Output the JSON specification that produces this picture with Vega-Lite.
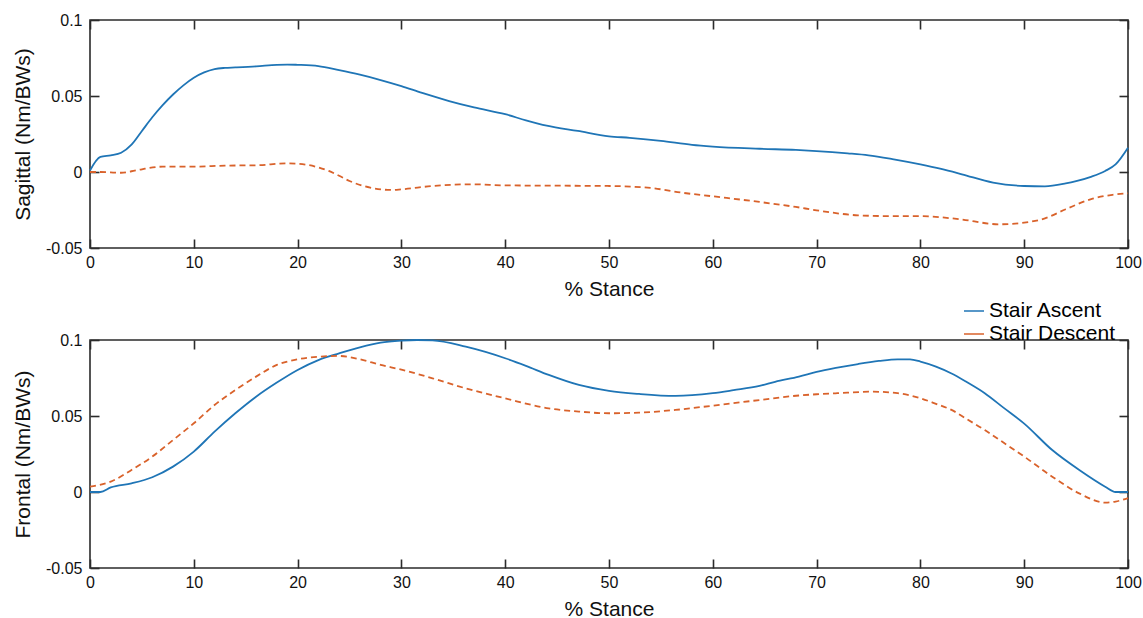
{
  "$schema": "https://vega.github.io/schema/vega-lite/v6.json",
  "padding": {"left": 11, "top": 11, "right": 0, "bottom": 0},
  "background": "white",
  "config": {
    "font": "Liberation Sans",
    "view": {"stroke": "#2b2b2b", "strokeWidth": 1.6},
    "axis": {"grid": false, "domain": false, "labelFlush": false, "labelFontSize": 16, "labelColor": "#111111", "titleFontSize": 21, "titleFontWeight": "normal", "titleColor": "#111111"}
  },
  "datasets": {
    "sagittal": [
      {"series": "Stair Ascent", "x": 0, "y": 0.001},
      {"series": "Stair Ascent", "x": 1, "y": 0.0099},
      {"series": "Stair Ascent", "x": 2, "y": 0.011},
      {"series": "Stair Ascent", "x": 3, "y": 0.0127},
      {"series": "Stair Ascent", "x": 4, "y": 0.018},
      {"series": "Stair Ascent", "x": 5, "y": 0.027},
      {"series": "Stair Ascent", "x": 6, "y": 0.036},
      {"series": "Stair Ascent", "x": 7, "y": 0.044},
      {"series": "Stair Ascent", "x": 8, "y": 0.051},
      {"series": "Stair Ascent", "x": 9, "y": 0.057},
      {"series": "Stair Ascent", "x": 10, "y": 0.062},
      {"series": "Stair Ascent", "x": 11, "y": 0.0655},
      {"series": "Stair Ascent", "x": 12, "y": 0.0677},
      {"series": "Stair Ascent", "x": 13, "y": 0.0685},
      {"series": "Stair Ascent", "x": 14, "y": 0.0688},
      {"series": "Stair Ascent", "x": 16, "y": 0.0695},
      {"series": "Stair Ascent", "x": 18, "y": 0.0705},
      {"series": "Stair Ascent", "x": 19, "y": 0.0707},
      {"series": "Stair Ascent", "x": 20, "y": 0.0705},
      {"series": "Stair Ascent", "x": 22, "y": 0.0697},
      {"series": "Stair Ascent", "x": 24, "y": 0.067},
      {"series": "Stair Ascent", "x": 26, "y": 0.064},
      {"series": "Stair Ascent", "x": 28, "y": 0.0605},
      {"series": "Stair Ascent", "x": 30, "y": 0.0565},
      {"series": "Stair Ascent", "x": 32, "y": 0.052},
      {"series": "Stair Ascent", "x": 34.6, "y": 0.0467},
      {"series": "Stair Ascent", "x": 37, "y": 0.0425},
      {"series": "Stair Ascent", "x": 40, "y": 0.038},
      {"series": "Stair Ascent", "x": 42, "y": 0.034},
      {"series": "Stair Ascent", "x": 44, "y": 0.0305},
      {"series": "Stair Ascent", "x": 47, "y": 0.027},
      {"series": "Stair Ascent", "x": 50, "y": 0.0235},
      {"series": "Stair Ascent", "x": 52, "y": 0.0225},
      {"series": "Stair Ascent", "x": 55, "y": 0.0205},
      {"series": "Stair Ascent", "x": 58, "y": 0.0178},
      {"series": "Stair Ascent", "x": 60, "y": 0.0167},
      {"series": "Stair Ascent", "x": 64.5, "y": 0.0153},
      {"series": "Stair Ascent", "x": 68, "y": 0.0145},
      {"series": "Stair Ascent", "x": 70, "y": 0.0138},
      {"series": "Stair Ascent", "x": 73, "y": 0.0123},
      {"series": "Stair Ascent", "x": 75, "y": 0.011},
      {"series": "Stair Ascent", "x": 77.3, "y": 0.0085},
      {"series": "Stair Ascent", "x": 80, "y": 0.005},
      {"series": "Stair Ascent", "x": 82, "y": 0.002},
      {"series": "Stair Ascent", "x": 84, "y": -0.0015},
      {"series": "Stair Ascent", "x": 87, "y": -0.007},
      {"series": "Stair Ascent", "x": 90, "y": -0.0092},
      {"series": "Stair Ascent", "x": 92, "y": -0.0094},
      {"series": "Stair Ascent", "x": 94, "y": -0.0075},
      {"series": "Stair Ascent", "x": 95, "y": -0.006},
      {"series": "Stair Ascent", "x": 96.5, "y": -0.003},
      {"series": "Stair Ascent", "x": 97.8, "y": 0.0007},
      {"series": "Stair Ascent", "x": 98.8, "y": 0.005},
      {"series": "Stair Ascent", "x": 100, "y": 0.016},
      {"series": "Stair Descent", "x": 0, "y": 0},
      {"series": "Stair Descent", "x": 1, "y": 0},
      {"series": "Stair Descent", "x": 2, "y": -0.0003},
      {"series": "Stair Descent", "x": 3, "y": -0.0005},
      {"series": "Stair Descent", "x": 4, "y": 0.0005},
      {"series": "Stair Descent", "x": 5, "y": 0.0018},
      {"series": "Stair Descent", "x": 7, "y": 0.0035},
      {"series": "Stair Descent", "x": 10, "y": 0.0035},
      {"series": "Stair Descent", "x": 13, "y": 0.0042},
      {"series": "Stair Descent", "x": 16, "y": 0.0044},
      {"series": "Stair Descent", "x": 19, "y": 0.0057},
      {"series": "Stair Descent", "x": 21, "y": 0.0046},
      {"series": "Stair Descent", "x": 22, "y": 0.003},
      {"series": "Stair Descent", "x": 23, "y": 0.0007},
      {"series": "Stair Descent", "x": 24, "y": -0.0025},
      {"series": "Stair Descent", "x": 25, "y": -0.0059},
      {"series": "Stair Descent", "x": 27, "y": -0.0103},
      {"series": "Stair Descent", "x": 29, "y": -0.0118},
      {"series": "Stair Descent", "x": 30, "y": -0.0114},
      {"series": "Stair Descent", "x": 33, "y": -0.0092},
      {"series": "Stair Descent", "x": 36.8, "y": -0.0081},
      {"series": "Stair Descent", "x": 40, "y": -0.0088},
      {"series": "Stair Descent", "x": 45, "y": -0.009},
      {"series": "Stair Descent", "x": 50, "y": -0.0092},
      {"series": "Stair Descent", "x": 54, "y": -0.0105},
      {"series": "Stair Descent", "x": 57, "y": -0.0136},
      {"series": "Stair Descent", "x": 60, "y": -0.016},
      {"series": "Stair Descent", "x": 64.5, "y": -0.0197},
      {"series": "Stair Descent", "x": 68, "y": -0.023},
      {"series": "Stair Descent", "x": 70, "y": -0.0252},
      {"series": "Stair Descent", "x": 74, "y": -0.0285},
      {"series": "Stair Descent", "x": 77, "y": -0.029},
      {"series": "Stair Descent", "x": 80, "y": -0.029},
      {"series": "Stair Descent", "x": 83.7, "y": -0.031},
      {"series": "Stair Descent", "x": 87.6, "y": -0.0344},
      {"series": "Stair Descent", "x": 90, "y": -0.0333},
      {"series": "Stair Descent", "x": 92, "y": -0.0305},
      {"series": "Stair Descent", "x": 94, "y": -0.0245},
      {"series": "Stair Descent", "x": 96.6, "y": -0.0175},
      {"series": "Stair Descent", "x": 98.5, "y": -0.015},
      {"series": "Stair Descent", "x": 100, "y": -0.014}
    ],
    "frontal": [
      {"series": "Stair Ascent", "x": 0, "y": 0},
      {"series": "Stair Ascent", "x": 1, "y": 0},
      {"series": "Stair Ascent", "x": 2, "y": 0.003},
      {"series": "Stair Ascent", "x": 4, "y": 0.0057},
      {"series": "Stair Ascent", "x": 6, "y": 0.0097},
      {"series": "Stair Ascent", "x": 8, "y": 0.0167},
      {"series": "Stair Ascent", "x": 10, "y": 0.0266},
      {"series": "Stair Ascent", "x": 12, "y": 0.0397},
      {"series": "Stair Ascent", "x": 14, "y": 0.0518},
      {"series": "Stair Ascent", "x": 16, "y": 0.0627},
      {"series": "Stair Ascent", "x": 18, "y": 0.072},
      {"series": "Stair Ascent", "x": 20, "y": 0.0803},
      {"series": "Stair Ascent", "x": 22, "y": 0.0868},
      {"series": "Stair Ascent", "x": 24, "y": 0.0912},
      {"series": "Stair Ascent", "x": 26, "y": 0.0952},
      {"series": "Stair Ascent", "x": 28, "y": 0.0983},
      {"series": "Stair Ascent", "x": 30, "y": 0.0996},
      {"series": "Stair Ascent", "x": 31.5, "y": 0.1},
      {"series": "Stair Ascent", "x": 33, "y": 0.0998},
      {"series": "Stair Ascent", "x": 36.2, "y": 0.0956},
      {"series": "Stair Ascent", "x": 40, "y": 0.088},
      {"series": "Stair Ascent", "x": 42, "y": 0.083},
      {"series": "Stair Ascent", "x": 44.2, "y": 0.077},
      {"series": "Stair Ascent", "x": 47.1, "y": 0.0704},
      {"series": "Stair Ascent", "x": 50, "y": 0.0665},
      {"series": "Stair Ascent", "x": 52.9, "y": 0.0645},
      {"series": "Stair Ascent", "x": 56.4, "y": 0.0632},
      {"series": "Stair Ascent", "x": 60, "y": 0.065},
      {"series": "Stair Ascent", "x": 62, "y": 0.067},
      {"series": "Stair Ascent", "x": 64.5, "y": 0.0698},
      {"series": "Stair Ascent", "x": 66, "y": 0.0725},
      {"series": "Stair Ascent", "x": 68.3, "y": 0.0759},
      {"series": "Stair Ascent", "x": 70, "y": 0.079},
      {"series": "Stair Ascent", "x": 72, "y": 0.0818},
      {"series": "Stair Ascent", "x": 74, "y": 0.0842},
      {"series": "Stair Ascent", "x": 76, "y": 0.0862},
      {"series": "Stair Ascent", "x": 77.8, "y": 0.0873},
      {"series": "Stair Ascent", "x": 79, "y": 0.0872},
      {"series": "Stair Ascent", "x": 80, "y": 0.0858},
      {"series": "Stair Ascent", "x": 81.5, "y": 0.0825},
      {"series": "Stair Ascent", "x": 83, "y": 0.078},
      {"series": "Stair Ascent", "x": 84.5, "y": 0.0722},
      {"series": "Stair Ascent", "x": 86.2, "y": 0.065},
      {"series": "Stair Ascent", "x": 88, "y": 0.0555},
      {"series": "Stair Ascent", "x": 90, "y": 0.045},
      {"series": "Stair Ascent", "x": 92.7, "y": 0.0276},
      {"series": "Stair Ascent", "x": 95.3, "y": 0.0145},
      {"series": "Stair Ascent", "x": 97.8, "y": 0.0035},
      {"series": "Stair Ascent", "x": 98.8, "y": 0},
      {"series": "Stair Ascent", "x": 100, "y": 0},
      {"series": "Stair Descent", "x": 0, "y": 0.0035},
      {"series": "Stair Descent", "x": 2, "y": 0.0068},
      {"series": "Stair Descent", "x": 4, "y": 0.0145},
      {"series": "Stair Descent", "x": 6, "y": 0.0233},
      {"series": "Stair Descent", "x": 8, "y": 0.0342},
      {"series": "Stair Descent", "x": 10, "y": 0.0452},
      {"series": "Stair Descent", "x": 12, "y": 0.0572},
      {"series": "Stair Descent", "x": 14, "y": 0.0671},
      {"series": "Stair Descent", "x": 16, "y": 0.0759},
      {"series": "Stair Descent", "x": 18, "y": 0.0836},
      {"series": "Stair Descent", "x": 20, "y": 0.0873},
      {"series": "Stair Descent", "x": 22, "y": 0.089},
      {"series": "Stair Descent", "x": 24, "y": 0.0895},
      {"series": "Stair Descent", "x": 26, "y": 0.0873},
      {"series": "Stair Descent", "x": 28, "y": 0.0836},
      {"series": "Stair Descent", "x": 30, "y": 0.0805},
      {"series": "Stair Descent", "x": 33, "y": 0.0748},
      {"series": "Stair Descent", "x": 36.2, "y": 0.0682},
      {"series": "Stair Descent", "x": 40, "y": 0.0616},
      {"series": "Stair Descent", "x": 44.2, "y": 0.055},
      {"series": "Stair Descent", "x": 47.1, "y": 0.0529},
      {"series": "Stair Descent", "x": 50, "y": 0.0518},
      {"series": "Stair Descent", "x": 52.9, "y": 0.0522},
      {"series": "Stair Descent", "x": 56.4, "y": 0.054},
      {"series": "Stair Descent", "x": 60, "y": 0.0568},
      {"series": "Stair Descent", "x": 64.5, "y": 0.0605},
      {"series": "Stair Descent", "x": 68.3, "y": 0.0635},
      {"series": "Stair Descent", "x": 70, "y": 0.0643},
      {"series": "Stair Descent", "x": 72, "y": 0.065},
      {"series": "Stair Descent", "x": 75.4, "y": 0.066},
      {"series": "Stair Descent", "x": 77.8, "y": 0.065},
      {"series": "Stair Descent", "x": 80, "y": 0.0617},
      {"series": "Stair Descent", "x": 81.5, "y": 0.058},
      {"series": "Stair Descent", "x": 83, "y": 0.054},
      {"series": "Stair Descent", "x": 84.5, "y": 0.0478},
      {"series": "Stair Descent", "x": 86.2, "y": 0.0408},
      {"series": "Stair Descent", "x": 88, "y": 0.0325},
      {"series": "Stair Descent", "x": 90, "y": 0.0233},
      {"series": "Stair Descent", "x": 92.7, "y": 0.0101},
      {"series": "Stair Descent", "x": 95.3, "y": -0.0009},
      {"series": "Stair Descent", "x": 97.8, "y": -0.007},
      {"series": "Stair Descent", "x": 98.8, "y": -0.0063},
      {"series": "Stair Descent", "x": 100, "y": -0.004}
    ]
  },
  "spacing": 31,
  "vconcat": [
    {
      "width": 1038,
      "height": 228,
      "data": {"name": "sagittal"},
      "layer": [
        {
          "transform": [{"filter": "datum.series === 'Stair Ascent'"}],
          "mark": {"type": "line", "strokeWidth": 1.8, "interpolate": "monotone"},
          "encoding": {
            "x": {"field": "x", "type": "quantitative", "scale": {"domain": [0, 100], "nice": false},
                  "axis": {"values": [0,10,20,30,40,50,60,70,80,90,100], "title": "% Stance", "ticks": true, "tickSize": -9, "tickColor": "#2b2b2b", "tickWidth": 1.6, "labelPadding": 15, "titleY": 30}},
            "y": {"field": "y", "type": "quantitative", "scale": {"domain": [-0.05, 0.1], "nice": false, "zero": false},
                  "axis": {"values": [-0.05, 0, 0.05, 0.1], "labelExpr": "datum.value + ''", "title": "Sagittal (Nm/BWs)", "ticks": true, "tickSize": -9, "tickColor": "#2b2b2b", "tickWidth": 1.6, "labelPadding": 17, "titleX": -57}},
            "color": {"field": "series", "type": "nominal",
                      "scale": {"domain": ["Stair Ascent", "Stair Descent"], "range": ["#1f75b6", "#d9622b"]},
                      "legend": {"title": null, "orient": "none", "legendX": 873, "legendY": 280, "labelFontSize": 21, "symbolType": "stroke", "symbolSize": 400}}
          }
        },
        {
          "transform": [{"filter": "datum.series === 'Stair Descent'"}],
          "mark": {"type": "line", "strokeWidth": 1.8, "interpolate": "monotone", "strokeDash": [6, 4]},
          "encoding": {
            "x": {"field": "x", "type": "quantitative", "axis": {"orient": "top", "values": [0,10,20,30,40,50,60,70,80,90,100], "labels": false, "title": null, "ticks": true, "tickSize": -9, "tickColor": "#2b2b2b", "tickWidth": 1.6}},
            "y": {"field": "y", "type": "quantitative", "axis": {"orient": "right", "values": [-0.05, 0, 0.05, 0.1], "labels": false, "title": null, "ticks": true, "tickSize": -9, "tickColor": "#2b2b2b", "tickWidth": 1.6}},
            "color": {"field": "series", "type": "nominal"}
          }
        }
      ],
      "resolve": {"axis": {"x": "independent", "y": "independent"}}
    },
    {
      "width": 1038,
      "height": 228,
      "data": {"name": "frontal"},
      "layer": [
        {
          "transform": [{"filter": "datum.series === 'Stair Ascent'"}],
          "mark": {"type": "line", "strokeWidth": 1.8, "interpolate": "monotone"},
          "encoding": {
            "x": {"field": "x", "type": "quantitative", "scale": {"domain": [0, 100], "nice": false},
                  "axis": {"values": [0,10,20,30,40,50,60,70,80,90,100], "title": "% Stance", "ticks": true, "tickSize": -9, "tickColor": "#2b2b2b", "tickWidth": 1.6, "labelPadding": 15, "titleY": 30}},
            "y": {"field": "y", "type": "quantitative", "scale": {"domain": [-0.05, 0.1], "nice": false, "zero": false},
                  "axis": {"values": [-0.05, 0, 0.05, 0.1], "labelExpr": "datum.value + ''", "title": "Frontal (Nm/BWs)", "ticks": true, "tickSize": -9, "tickColor": "#2b2b2b", "tickWidth": 1.6, "labelPadding": 17, "titleX": -57}},
            "color": {"field": "series", "type": "nominal",
                      "scale": {"domain": ["Stair Ascent", "Stair Descent"], "range": ["#1f75b6", "#d9622b"]}}
          }
        },
        {
          "transform": [{"filter": "datum.series === 'Stair Descent'"}],
          "mark": {"type": "line", "strokeWidth": 1.8, "interpolate": "monotone", "strokeDash": [6, 4]},
          "encoding": {
            "x": {"field": "x", "type": "quantitative", "axis": {"orient": "top", "values": [0,10,20,30,40,50,60,70,80,90,100], "labels": false, "title": null, "ticks": true, "tickSize": -9, "tickColor": "#2b2b2b", "tickWidth": 1.6}},
            "y": {"field": "y", "type": "quantitative", "axis": {"orient": "right", "values": [-0.05, 0, 0.05, 0.1], "labels": false, "title": null, "ticks": true, "tickSize": -9, "tickColor": "#2b2b2b", "tickWidth": 1.6}},
            "color": {"field": "series", "type": "nominal"}
          }
        }
      ],
      "resolve": {"axis": {"x": "independent", "y": "independent"}}
    }
  ]
}
